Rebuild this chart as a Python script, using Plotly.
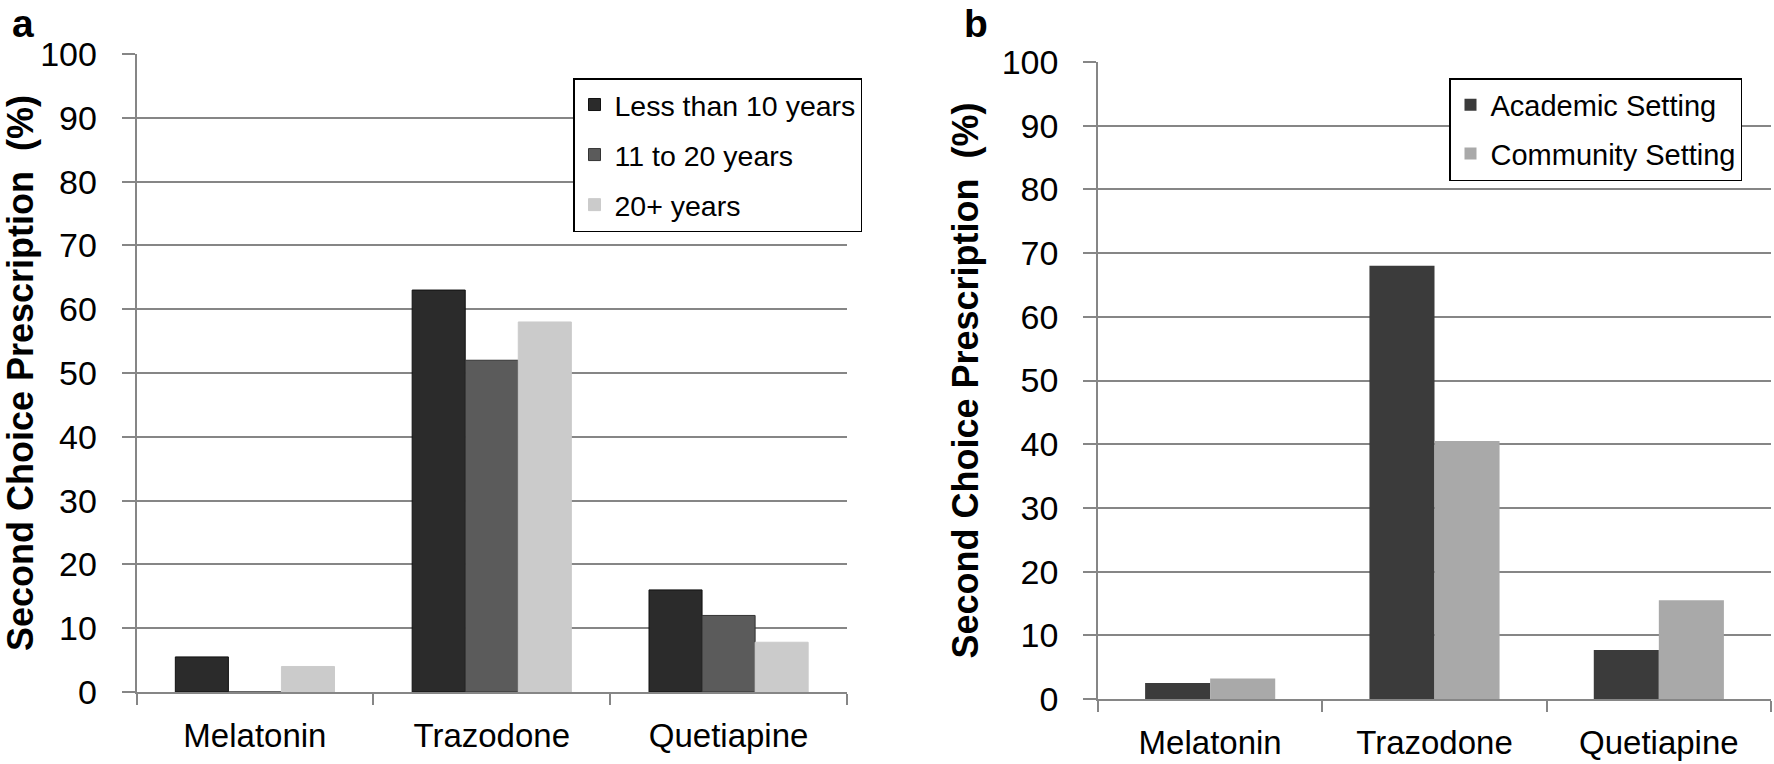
import plotly.graph_objects as go

W, H = 1774, 764

categories = ["Melatonin", "Trazodone", "Quetiapine"]

# Panel a: years of practice
a_series = ["Less than 10 years", "11 to 20 years", "20+ years"]
a_less10 = [5.5, 63, 16]
a_11to20 = [0, 52, 12]
a_20plus = [4, 58, 7.8]
a_colors = ["#2b2b2b", "#5b5b5b", "#cbcbcb"]
a_lines = ["#111111", "#333333", "#cbcbcb"]

# Panel b: practice setting
b_series = ["Academic Setting", "Community Setting"]
b_academic = [2.5, 68, 7.7]
b_community = [3.2, 40.5, 15.5]
b_colors = ["#3b3b3b", "#a9a9a9"]

y_ticks = list(range(0, 101, 10))

FONT = "Liberation Sans, Arial, sans-serif"
GRID = "#868686"

fig = go.Figure()

a_vals = [a_less10, a_11to20, a_20plus]
a_w = 0.224
a_offsets = [-1.5 * a_w, -0.5 * a_w, 0.5 * a_w]
for i, (name, vals) in enumerate(zip(a_series, a_vals)):
    fig.add_trace(go.Bar(
        x=categories, y=vals, name=name,
        xaxis="x", yaxis="y", legend="legend",
        legendgroup="a%d" % i,
        width=a_w, offset=a_offsets[i],
        marker=dict(color=a_colors[i], line=dict(color=a_lines[i], width=1)),
    ))

b_vals = [b_academic, b_community]
b_w = 0.29
b_offsets = [-b_w, 0]
for i, (name, vals) in enumerate(zip(b_series, b_vals)):
    fig.add_trace(go.Bar(
        x=categories, y=vals, name=name,
        xaxis="x2", yaxis="y2", legend="legend2",
        legendgroup="b%d" % i,
        width=b_w, offset=b_offsets[i],
        marker=dict(color=b_colors[i], line=dict(width=0)),
    ))

def px_x(p):
    return p / W

def px_y(p):
    return 1 - p / H

xcommon = dict(
    type="category", showgrid=False, showline=True, linecolor=GRID, linewidth=1.5,
    ticks="outside", tickson="boundaries", ticklen=11, tickcolor=GRID, tickwidth=1.5,
    ticklabelstandoff=14,
    tickfont=dict(family=FONT, size=33, color="#000000"), zeroline=False,
    fixedrange=True, automargin=False,
)
ycommon = dict(
    range=[0, 100], tickvals=y_ticks, showgrid=True, gridcolor=GRID, gridwidth=1.5,
    showline=True, linecolor=GRID, linewidth=1.5, ticks="outside", ticklen=13,
    tickcolor=GRID, tickwidth=1.5, ticklabelstandoff=18,
    tickfont=dict(family=FONT, size=34, color="#000000"), zeroline=False,
    automargin=False, fixedrange=True,
    title=dict(text="Second Choice Prescription  (%)",
               font=dict(family=FONT, size=36, color="#000000", weight="bold"),
               standoff=12),
)

fig.update_layout(
    width=W, height=H,
    margin=dict(l=0, r=0, t=0, b=0, pad=0, autoexpand=False),
    paper_bgcolor="white", plot_bgcolor="white",
    barmode="overlay",
    showlegend=True,
    xaxis=dict(domain=[px_x(136.5), px_x(847)], anchor="y", **xcommon),
    yaxis=dict(domain=[px_y(692), px_y(54)], anchor="x", **ycommon),
    xaxis2=dict(domain=[px_x(1098), px_x(1771)], anchor="y2", **xcommon),
    yaxis2=dict(domain=[px_y(699), px_y(62)], anchor="x2", **ycommon),
    legend=dict(x=px_x(573), y=px_y(78), xanchor="left", yanchor="top",
                bgcolor="white", bordercolor="#000000", borderwidth=1.5,
                font=dict(family=FONT, size=28.5, color="#000000"),
                tracegroupgap=10, itemclick=False, itemdoubleclick=False),
    legend2=dict(x=px_x(1449), y=px_y(78), xanchor="left", yanchor="top",
                 bgcolor="white", bordercolor="#000000", borderwidth=1.5,
                 font=dict(family=FONT, size=29, color="#000000"),
                 tracegroupgap=8, itemclick=False, itemdoubleclick=False),
    annotations=[
        dict(text="<b>a</b>", x=px_x(10), y=1, xref="paper", yref="paper",
             xanchor="left", yanchor="top", showarrow=False,
             font=dict(family=FONT, size=39, color="#000000")),
        dict(text="<b>b</b>", x=px_x(962), y=1, xref="paper", yref="paper",
             xanchor="left", yanchor="top", showarrow=False,
             font=dict(family=FONT, size=39, color="#000000")),
    ],
)

fig.write_html(
    "out.html",
    config={"displayModeBar": False},
    post_script="document.body.style.margin='0';document.body.style.overflow='hidden';",
)
